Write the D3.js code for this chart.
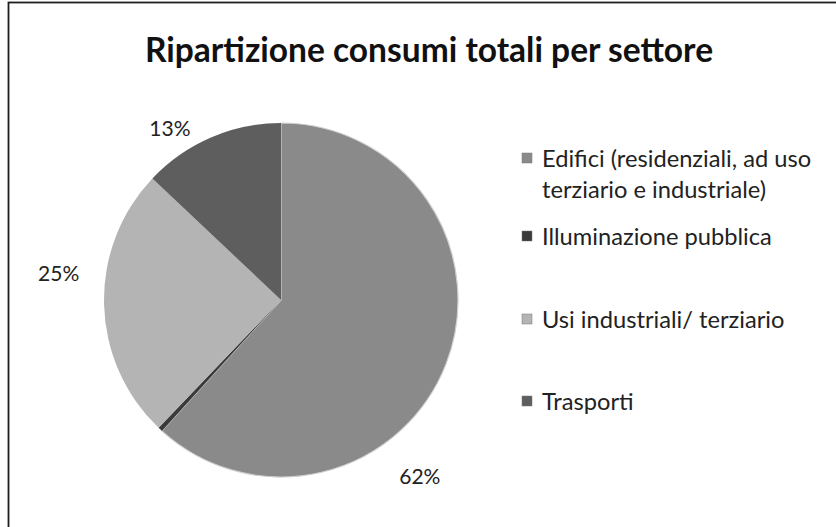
<!DOCTYPE html>
<html>
<head>
<meta charset="utf-8">
<script src="https://cdn.jsdelivr.net/npm/d3@7"></script>
<style>
  html, body { margin: 0; padding: 0; background: #fff; }
  svg { display: block; }
</style>
</head>
<body>
<svg id="chart" width="836" height="527"></svg>
<script>
// Energy consumption split by sector
const categories = [
  "Edifici (residenziali, ad uso terziario e industriale)",
  "Illuminazione pubblica",
  "Usi industriali/ terziario",
  "Trasporti"
];
const values = [62, 0.4, 25, 13];
const legendLines = [
  ["Edifici (residenziali, ad uso", "terziario e industriale)"],
  ["Illuminazione pubblica"],
  ["Usi industriali/ terziario"],
  ["Trasporti"]
];
const title = "Ripartizione consumi totali per settore";

const sliceColors = ["#8a8a8a", "#3a3a3a", "#b4b4b4", "#5e5e5e"];
const font = "Lato, 'Open Sans', sans-serif";

const W = 836, H = 527;
const svg = d3.select("#chart");

// shrink/grow a text element's font until it spans the wanted width
function fitWidth(sel, width) {
  const node = sel.node();
  let fs = +sel.attr("font-size");
  for (let k = 0; k < 4; k++) {
    const w = node.getComputedTextLength();
    if (!w) break;
    fs = fs * width / w;
    sel.attr("font-size", fs);
  }
  return fs;
}

// chart frame
svg.append("rect")
  .attr("x", 8.5).attr("y", 2.5)
  .attr("width", W).attr("height", H)
  .attr("fill", "#fff").attr("stroke", "#1e1e1e").attr("stroke-width", 1.8);

const titleText = svg.append("text")
  .attr("x", 429).attr("y", 62)
  .attr("text-anchor", "middle")
  .attr("font-family", font).attr("font-weight", "bold")
  .attr("font-size", 28).attr("fill", "#111")
  .text(title);
fitWidth(titleText, 568);

// pie
const cx = 281, cy = 300, r = 177;
const pie = d3.pie().sort(null).value(d => d);
const arcs = pie(values);
const arc = d3.arc().innerRadius(0).outerRadius(r);

const g = svg.append("g").attr("transform", `translate(${cx},${cy})`);
g.selectAll("path.slice")
  .data(arcs)
  .join("path")
  .attr("class", "slice")
  .attr("d", arc)
  .attr("fill", (d, i) => sliceColors[i])
  .attr("stroke", (d, i) => i === 0 ? "#cfcfcf" : "none")
  .attr("stroke-width", 1.2);

// percentage labels placed outside the pie (angle in degrees, radius)
const labelPlacement = [[141.7, 224], null, [277, 224], [327.2, 205]];
const pctFont = 21;
arcs.forEach((d, i) => {
  const p = labelPlacement[i];
  if (!p || d.data < 1) return;
  const a = p[0] * Math.PI / 180;
  g.append("text")
    .attr("x", Math.sin(a) * p[1])
    .attr("y", -Math.cos(a) * p[1])
    .attr("text-anchor", "middle")
    .attr("dominant-baseline", "central")
    .attr("font-family", font).attr("font-size", pctFont).attr("fill", "#222")
    .text(Math.round(d.data) + "%");
});

// legend
const legendRows = [158, 236, 319, 401];
const lineGap = 31;
const lg = svg.append("g");
let legendFont = null;
categories.forEach((c, i) => {
  const y = legendRows[i];
  lg.append("rect")
    .attr("x", 522).attr("y", y - 5).attr("width", 10).attr("height", 10)
    .attr("fill", sliceColors[i]).attr("stroke", "#777").attr("stroke-width", 0.5);
  legendLines[i].forEach((line, k) => {
    const t = lg.append("text")
      .attr("x", 542).attr("y", y + k * lineGap)
      .attr("dominant-baseline", "central")
      .attr("font-family", font).attr("font-size", legendFont || 20).attr("fill", "#222")
      .text(line);
    if (legendFont === null && i === 0 && k === 1) {
      legendFont = fitWidth(t, 224);
      lg.selectAll("text").attr("font-size", legendFont);
    }
  });
});
</script>
</body>
</html>
